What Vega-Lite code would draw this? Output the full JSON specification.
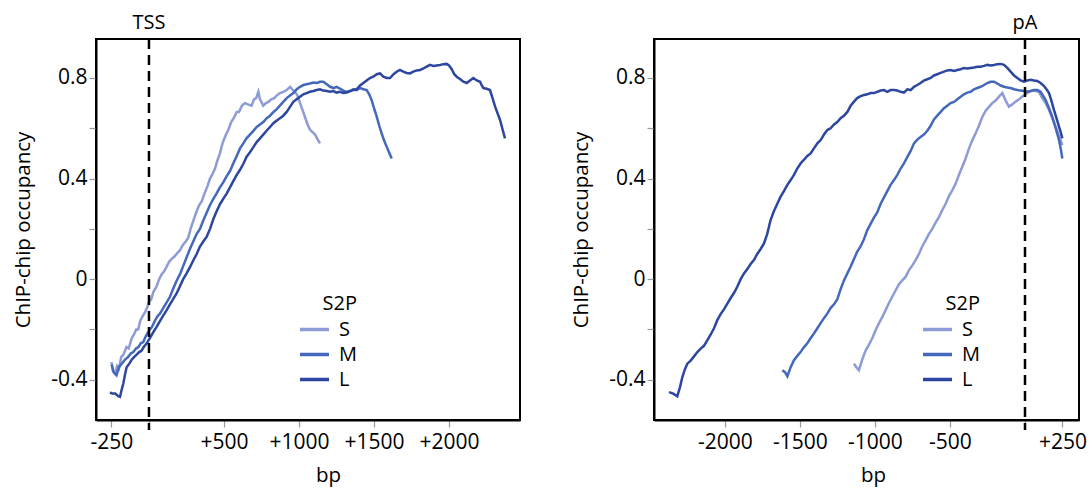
{
"$schema": "https://vega.github.io/schema/vega-lite/v6.json",
"background": "white",
"padding": {"left": 12, "top": 11, "right": 5, "bottom": 1},
"config": {
  "font": "Open Sans",
  "view": {"stroke": "black", "strokeWidth": 2},
  "axis": {"domainColor": "black", "domainWidth": 2, "tickColor": "#9a9a9a", "tickSize": 7, "tickWidth": 1.2, "labelFontSize": 21, "titleFontSize": 20.5, "labelColor": "black", "titleColor": "black", "titleFontWeight": "normal", "grid": false, "labelFont": "Open Sans", "titleFont": "Open Sans"},
  "legend": {"symbolType": "stroke", "symbolStrokeWidth": 3.5, "symbolSize": 841, "labelFontSize": 20, "titleFontSize": 20, "titleFontWeight": "normal", "titleAnchor": "end", "labelOffset": 8, "clipHeight": 19, "rowPadding": 4, "titlePadding": 6, "labelColor": "black", "titleColor": "black"}
},
"datasets": {
"tss": [
{"g":"S","x":-250,"y":-0.33},{"g":"S","x":-240,"y":-0.365},{"g":"S","x":-227,"y":-0.375},{"g":"S","x":-212,"y":-0.345},{"g":"S","x":-200,"y":-0.355},{"g":"S","x":-185,"y":-0.31},{"g":"S","x":-170,"y":-0.3},{"g":"S","x":-150,"y":-0.27},{"g":"S","x":-135,"y":-0.275},{"g":"S","x":-115,"y":-0.235},{"g":"S","x":-100,"y":-0.22},{"g":"S","x":-85,"y":-0.2},{"g":"S","x":-72,"y":-0.2},{"g":"S","x":-58,"y":-0.165},{"g":"S","x":-40,"y":-0.145},{"g":"S","x":-25,"y":-0.13},{"g":"S","x":-10,"y":-0.11},{"g":"S","x":0,"y":-0.09},{"g":"S","x":15,"y":-0.08},{"g":"S","x":30,"y":-0.05},{"g":"S","x":50,"y":-0.03},{"g":"S","x":68,"y":0.0},{"g":"S","x":85,"y":0.02},{"g":"S","x":100,"y":0.03},{"g":"S","x":118,"y":0.05},{"g":"S","x":135,"y":0.07},{"g":"S","x":150,"y":0.08},{"g":"S","x":170,"y":0.09},{"g":"S","x":190,"y":0.105},{"g":"S","x":207,"y":0.115},{"g":"S","x":225,"y":0.135},{"g":"S","x":245,"y":0.15},{"g":"S","x":262,"y":0.165},{"g":"S","x":280,"y":0.205},{"g":"S","x":300,"y":0.24},{"g":"S","x":318,"y":0.27},{"g":"S","x":335,"y":0.295},{"g":"S","x":352,"y":0.31},{"g":"S","x":370,"y":0.34},{"g":"S","x":390,"y":0.37},{"g":"S","x":407,"y":0.4},{"g":"S","x":425,"y":0.42},{"g":"S","x":440,"y":0.44},{"g":"S","x":455,"y":0.47},{"g":"S","x":473,"y":0.5},{"g":"S","x":490,"y":0.54},{"g":"S","x":510,"y":0.57},{"g":"S","x":530,"y":0.595},{"g":"S","x":548,"y":0.625},{"g":"S","x":565,"y":0.64},{"g":"S","x":585,"y":0.665},{"g":"S","x":600,"y":0.665},{"g":"S","x":620,"y":0.69},{"g":"S","x":640,"y":0.7},{"g":"S","x":660,"y":0.695},{"g":"S","x":684,"y":0.69},{"g":"S","x":700,"y":0.715},{"g":"S","x":715,"y":0.72},{"g":"S","x":729,"y":0.745},{"g":"S","x":740,"y":0.715},{"g":"S","x":762,"y":0.69},{"g":"S","x":780,"y":0.7},{"g":"S","x":796,"y":0.705},{"g":"S","x":815,"y":0.715},{"g":"S","x":835,"y":0.72},{"g":"S","x":851,"y":0.73},{"g":"S","x":873,"y":0.74},{"g":"S","x":895,"y":0.745},{"g":"S","x":918,"y":0.752},{"g":"S","x":940,"y":0.765},{"g":"S","x":955,"y":0.755},{"g":"S","x":973,"y":0.745},{"g":"S","x":990,"y":0.73},{"g":"S","x":1007,"y":0.7},{"g":"S","x":1025,"y":0.67},{"g":"S","x":1040,"y":0.645},{"g":"S","x":1057,"y":0.615},{"g":"S","x":1073,"y":0.595},{"g":"S","x":1090,"y":0.585},{"g":"S","x":1107,"y":0.575},{"g":"S","x":1125,"y":0.555},{"g":"S","x":1140,"y":0.54},
{"g":"M","x":-249,"y":-0.34},{"g":"M","x":-235,"y":-0.37},{"g":"M","x":-216,"y":-0.382},{"g":"M","x":-200,"y":-0.35},{"g":"M","x":-180,"y":-0.335},{"g":"M","x":-160,"y":-0.32},{"g":"M","x":-140,"y":-0.31},{"g":"M","x":-120,"y":-0.295},{"g":"M","x":-104,"y":-0.29},{"g":"M","x":-85,"y":-0.275},{"g":"M","x":-70,"y":-0.27},{"g":"M","x":-55,"y":-0.255},{"g":"M","x":-38,"y":-0.25},{"g":"M","x":-20,"y":-0.225},{"g":"M","x":0,"y":-0.205},{"g":"M","x":20,"y":-0.19},{"g":"M","x":40,"y":-0.165},{"g":"M","x":60,"y":-0.145},{"g":"M","x":73,"y":-0.137},{"g":"M","x":95,"y":-0.115},{"g":"M","x":120,"y":-0.09},{"g":"M","x":140,"y":-0.07},{"g":"M","x":160,"y":-0.04},{"g":"M","x":185,"y":-0.005},{"g":"M","x":207,"y":0.02},{"g":"M","x":230,"y":0.055},{"g":"M","x":250,"y":0.085},{"g":"M","x":273,"y":0.12},{"g":"M","x":295,"y":0.15},{"g":"M","x":318,"y":0.18},{"g":"M","x":340,"y":0.2},{"g":"M","x":360,"y":0.23},{"g":"M","x":385,"y":0.265},{"g":"M","x":407,"y":0.295},{"g":"M","x":430,"y":0.32},{"g":"M","x":450,"y":0.34},{"g":"M","x":473,"y":0.365},{"g":"M","x":495,"y":0.385},{"g":"M","x":518,"y":0.41},{"g":"M","x":540,"y":0.43},{"g":"M","x":562,"y":0.46},{"g":"M","x":585,"y":0.49},{"g":"M","x":607,"y":0.52},{"g":"M","x":629,"y":0.54},{"g":"M","x":650,"y":0.56},{"g":"M","x":673,"y":0.575},{"g":"M","x":696,"y":0.59},{"g":"M","x":718,"y":0.605},{"g":"M","x":740,"y":0.615},{"g":"M","x":762,"y":0.625},{"g":"M","x":785,"y":0.64},{"g":"M","x":807,"y":0.65},{"g":"M","x":830,"y":0.665},{"g":"M","x":850,"y":0.675},{"g":"M","x":873,"y":0.69},{"g":"M","x":895,"y":0.705},{"g":"M","x":918,"y":0.72},{"g":"M","x":940,"y":0.73},{"g":"M","x":962,"y":0.74},{"g":"M","x":985,"y":0.755},{"g":"M","x":1007,"y":0.765},{"g":"M","x":1029,"y":0.772},{"g":"M","x":1050,"y":0.775},{"g":"M","x":1073,"y":0.778},{"g":"M","x":1096,"y":0.782},{"g":"M","x":1120,"y":0.78},{"g":"M","x":1140,"y":0.785},{"g":"M","x":1162,"y":0.785},{"g":"M","x":1185,"y":0.775},{"g":"M","x":1207,"y":0.765},{"g":"M","x":1230,"y":0.76},{"g":"M","x":1250,"y":0.765},{"g":"M","x":1273,"y":0.758},{"g":"M","x":1295,"y":0.75},{"g":"M","x":1318,"y":0.745},{"g":"M","x":1340,"y":0.748},{"g":"M","x":1362,"y":0.755},{"g":"M","x":1384,"y":0.752},{"g":"M","x":1407,"y":0.76},{"g":"M","x":1430,"y":0.755},{"g":"M","x":1451,"y":0.752},{"g":"M","x":1468,"y":0.735},{"g":"M","x":1484,"y":0.712},{"g":"M","x":1500,"y":0.68},{"g":"M","x":1518,"y":0.646},{"g":"M","x":1535,"y":0.61},{"g":"M","x":1551,"y":0.58},{"g":"M","x":1568,"y":0.55},{"g":"M","x":1584,"y":0.527},{"g":"M","x":1600,"y":0.505},{"g":"M","x":1618,"y":0.48},
{"g":"L","x":-260,"y":-0.45},{"g":"L","x":-245,"y":-0.455},{"g":"L","x":-225,"y":-0.455},{"g":"L","x":-205,"y":-0.465},{"g":"L","x":-193,"y":-0.468},{"g":"L","x":-182,"y":-0.44},{"g":"L","x":-171,"y":-0.415},{"g":"L","x":-160,"y":-0.38},{"g":"L","x":-149,"y":-0.35},{"g":"L","x":-130,"y":-0.335},{"g":"L","x":-115,"y":-0.32},{"g":"L","x":-100,"y":-0.31},{"g":"L","x":-82,"y":-0.3},{"g":"L","x":-65,"y":-0.29},{"g":"L","x":-50,"y":-0.285},{"g":"L","x":-35,"y":-0.27},{"g":"L","x":-16,"y":-0.256},{"g":"L","x":0,"y":-0.24},{"g":"L","x":15,"y":-0.225},{"g":"L","x":30,"y":-0.21},{"g":"L","x":51,"y":-0.19},{"g":"L","x":70,"y":-0.17},{"g":"L","x":95,"y":-0.145},{"g":"L","x":118,"y":-0.123},{"g":"L","x":140,"y":-0.1},{"g":"L","x":160,"y":-0.08},{"g":"L","x":184,"y":-0.057},{"g":"L","x":205,"y":-0.03},{"g":"L","x":228,"y":0.0},{"g":"L","x":251,"y":0.023},{"g":"L","x":275,"y":0.05},{"g":"L","x":296,"y":0.075},{"g":"L","x":318,"y":0.1},{"g":"L","x":340,"y":0.13},{"g":"L","x":362,"y":0.15},{"g":"L","x":384,"y":0.168},{"g":"L","x":407,"y":0.2},{"g":"L","x":430,"y":0.24},{"g":"L","x":451,"y":0.27},{"g":"L","x":475,"y":0.3},{"g":"L","x":496,"y":0.32},{"g":"L","x":518,"y":0.34},{"g":"L","x":540,"y":0.365},{"g":"L","x":562,"y":0.39},{"g":"L","x":585,"y":0.415},{"g":"L","x":607,"y":0.435},{"g":"L","x":630,"y":0.46},{"g":"L","x":651,"y":0.487},{"g":"L","x":673,"y":0.505},{"g":"L","x":696,"y":0.525},{"g":"L","x":718,"y":0.545},{"g":"L","x":740,"y":0.56},{"g":"L","x":762,"y":0.575},{"g":"L","x":784,"y":0.59},{"g":"L","x":807,"y":0.605},{"g":"L","x":829,"y":0.62},{"g":"L","x":850,"y":0.63},{"g":"L","x":873,"y":0.64},{"g":"L","x":895,"y":0.65},{"g":"L","x":918,"y":0.665},{"g":"L","x":940,"y":0.685},{"g":"L","x":962,"y":0.705},{"g":"L","x":984,"y":0.715},{"g":"L","x":1007,"y":0.725},{"g":"L","x":1029,"y":0.735},{"g":"L","x":1051,"y":0.74},{"g":"L","x":1073,"y":0.745},{"g":"L","x":1096,"y":0.748},{"g":"L","x":1118,"y":0.752},{"g":"L","x":1140,"y":0.755},{"g":"L","x":1162,"y":0.75},{"g":"L","x":1185,"y":0.748},{"g":"L","x":1207,"y":0.745},{"g":"L","x":1229,"y":0.748},{"g":"L","x":1250,"y":0.742},{"g":"L","x":1273,"y":0.745},{"g":"L","x":1296,"y":0.74},{"g":"L","x":1318,"y":0.742},{"g":"L","x":1340,"y":0.748},{"g":"L","x":1362,"y":0.752},{"g":"L","x":1384,"y":0.755},{"g":"L","x":1407,"y":0.77},{"g":"L","x":1429,"y":0.78},{"g":"L","x":1451,"y":0.79},{"g":"L","x":1473,"y":0.8},{"g":"L","x":1495,"y":0.805},{"g":"L","x":1518,"y":0.815},{"g":"L","x":1540,"y":0.818},{"g":"L","x":1562,"y":0.805},{"g":"L","x":1585,"y":0.8},{"g":"L","x":1607,"y":0.8},{"g":"L","x":1630,"y":0.815},{"g":"L","x":1651,"y":0.825},{"g":"L","x":1673,"y":0.832},{"g":"L","x":1695,"y":0.825},{"g":"L","x":1718,"y":0.82},{"g":"L","x":1740,"y":0.818},{"g":"L","x":1762,"y":0.825},{"g":"L","x":1785,"y":0.83},{"g":"L","x":1807,"y":0.832},{"g":"L","x":1830,"y":0.838},{"g":"L","x":1851,"y":0.845},{"g":"L","x":1873,"y":0.852},{"g":"L","x":1895,"y":0.848},{"g":"L","x":1918,"y":0.85},{"g":"L","x":1940,"y":0.852},{"g":"L","x":1962,"y":0.855},{"g":"L","x":1984,"y":0.856},{"g":"L","x":2000,"y":0.85},{"g":"L","x":2018,"y":0.835},{"g":"L","x":2035,"y":0.815},{"g":"L","x":2051,"y":0.805},{"g":"L","x":2075,"y":0.795},{"g":"L","x":2096,"y":0.785},{"g":"L","x":2118,"y":0.78},{"g":"L","x":2140,"y":0.79},{"g":"L","x":2162,"y":0.8},{"g":"L","x":2185,"y":0.79},{"g":"L","x":2207,"y":0.785},{"g":"L","x":2218,"y":0.77},{"g":"L","x":2229,"y":0.76},{"g":"L","x":2251,"y":0.757},{"g":"L","x":2273,"y":0.752},{"g":"L","x":2290,"y":0.72},{"g":"L","x":2307,"y":0.686},{"g":"L","x":2323,"y":0.66},{"g":"L","x":2340,"y":0.633},{"g":"L","x":2357,"y":0.595},{"g":"L","x":2373,"y":0.56}
],
"pa": [
{"g":"S","x":-1140,"y":-0.336},{"g":"S","x":-1125,"y":-0.35},{"g":"S","x":-1107,"y":-0.362},{"g":"S","x":-1085,"y":-0.32},{"g":"S","x":-1062,"y":-0.283},{"g":"S","x":-1040,"y":-0.26},{"g":"S","x":-1018,"y":-0.235},{"g":"S","x":-996,"y":-0.203},{"g":"S","x":-973,"y":-0.175},{"g":"S","x":-951,"y":-0.15},{"g":"S","x":-929,"y":-0.123},{"g":"S","x":-907,"y":-0.095},{"g":"S","x":-885,"y":-0.07},{"g":"S","x":-862,"y":-0.044},{"g":"S","x":-840,"y":-0.02},{"g":"S","x":-818,"y":-0.005},{"g":"S","x":-796,"y":0.009},{"g":"S","x":-774,"y":0.035},{"g":"S","x":-751,"y":0.055},{"g":"S","x":-729,"y":0.076},{"g":"S","x":-707,"y":0.1},{"g":"S","x":-685,"y":0.13},{"g":"S","x":-662,"y":0.155},{"g":"S","x":-640,"y":0.18},{"g":"S","x":-618,"y":0.2},{"g":"S","x":-596,"y":0.225},{"g":"S","x":-573,"y":0.248},{"g":"S","x":-551,"y":0.275},{"g":"S","x":-529,"y":0.3},{"g":"S","x":-507,"y":0.33},{"g":"S","x":-484,"y":0.354},{"g":"S","x":-462,"y":0.38},{"g":"S","x":-440,"y":0.415},{"g":"S","x":-418,"y":0.447},{"g":"S","x":-396,"y":0.48},{"g":"S","x":-373,"y":0.52},{"g":"S","x":-351,"y":0.553},{"g":"S","x":-329,"y":0.58},{"g":"S","x":-307,"y":0.61},{"g":"S","x":-284,"y":0.646},{"g":"S","x":-262,"y":0.67},{"g":"S","x":-240,"y":0.685},{"g":"S","x":-218,"y":0.7},{"g":"S","x":-196,"y":0.71},{"g":"S","x":-173,"y":0.726},{"g":"S","x":-151,"y":0.74},{"g":"S","x":-129,"y":0.71},{"g":"S","x":-107,"y":0.686},{"g":"S","x":-85,"y":0.695},{"g":"S","x":-62,"y":0.706},{"g":"S","x":-40,"y":0.715},{"g":"S","x":-18,"y":0.726},{"g":"S","x":5,"y":0.735},{"g":"S","x":27,"y":0.745},{"g":"S","x":49,"y":0.75},{"g":"S","x":71,"y":0.748},{"g":"S","x":93,"y":0.745},{"g":"S","x":115,"y":0.72},{"g":"S","x":138,"y":0.7},{"g":"S","x":160,"y":0.673},{"g":"S","x":182,"y":0.64},{"g":"S","x":204,"y":0.606},{"g":"S","x":227,"y":0.57},{"g":"S","x":249,"y":0.533},
{"g":"M","x":-1618,"y":-0.362},{"g":"M","x":-1600,"y":-0.37},{"g":"M","x":-1584,"y":-0.386},{"g":"M","x":-1562,"y":-0.35},{"g":"M","x":-1540,"y":-0.322},{"g":"M","x":-1518,"y":-0.305},{"g":"M","x":-1496,"y":-0.29},{"g":"M","x":-1473,"y":-0.27},{"g":"M","x":-1451,"y":-0.255},{"g":"M","x":-1429,"y":-0.235},{"g":"M","x":-1407,"y":-0.216},{"g":"M","x":-1384,"y":-0.195},{"g":"M","x":-1362,"y":-0.175},{"g":"M","x":-1340,"y":-0.155},{"g":"M","x":-1318,"y":-0.137},{"g":"M","x":-1296,"y":-0.115},{"g":"M","x":-1273,"y":-0.1},{"g":"M","x":-1251,"y":-0.08},{"g":"M","x":-1229,"y":-0.04},{"g":"M","x":-1207,"y":-0.005},{"g":"M","x":-1184,"y":0.023},{"g":"M","x":-1162,"y":0.05},{"g":"M","x":-1140,"y":0.08},{"g":"M","x":-1118,"y":0.11},{"g":"M","x":-1096,"y":0.13},{"g":"M","x":-1073,"y":0.16},{"g":"M","x":-1051,"y":0.195},{"g":"M","x":-1029,"y":0.22},{"g":"M","x":-1007,"y":0.245},{"g":"M","x":-985,"y":0.265},{"g":"M","x":-962,"y":0.3},{"g":"M","x":-940,"y":0.325},{"g":"M","x":-918,"y":0.35},{"g":"M","x":-896,"y":0.375},{"g":"M","x":-873,"y":0.394},{"g":"M","x":-851,"y":0.415},{"g":"M","x":-829,"y":0.44},{"g":"M","x":-807,"y":0.46},{"g":"M","x":-785,"y":0.485},{"g":"M","x":-762,"y":0.51},{"g":"M","x":-740,"y":0.54},{"g":"M","x":-718,"y":0.555},{"g":"M","x":-696,"y":0.565},{"g":"M","x":-674,"y":0.575},{"g":"M","x":-651,"y":0.59},{"g":"M","x":-629,"y":0.61},{"g":"M","x":-607,"y":0.635},{"g":"M","x":-585,"y":0.65},{"g":"M","x":-562,"y":0.665},{"g":"M","x":-540,"y":0.68},{"g":"M","x":-518,"y":0.69},{"g":"M","x":-496,"y":0.7},{"g":"M","x":-473,"y":0.705},{"g":"M","x":-451,"y":0.715},{"g":"M","x":-429,"y":0.725},{"g":"M","x":-407,"y":0.735},{"g":"M","x":-385,"y":0.742},{"g":"M","x":-362,"y":0.745},{"g":"M","x":-340,"y":0.755},{"g":"M","x":-318,"y":0.76},{"g":"M","x":-296,"y":0.765},{"g":"M","x":-273,"y":0.772},{"g":"M","x":-251,"y":0.78},{"g":"M","x":-229,"y":0.785},{"g":"M","x":-207,"y":0.785},{"g":"M","x":-184,"y":0.778},{"g":"M","x":-162,"y":0.77},{"g":"M","x":-140,"y":0.765},{"g":"M","x":-118,"y":0.762},{"g":"M","x":-96,"y":0.76},{"g":"M","x":-73,"y":0.755},{"g":"M","x":-51,"y":0.752},{"g":"M","x":-29,"y":0.75},{"g":"M","x":-7,"y":0.748},{"g":"M","x":15,"y":0.745},{"g":"M","x":38,"y":0.748},{"g":"M","x":60,"y":0.752},{"g":"M","x":82,"y":0.752},{"g":"M","x":104,"y":0.745},{"g":"M","x":120,"y":0.73},{"g":"M","x":138,"y":0.712},{"g":"M","x":160,"y":0.68},{"g":"M","x":182,"y":0.646},{"g":"M","x":205,"y":0.6},{"g":"M","x":227,"y":0.553},{"g":"M","x":238,"y":0.52},{"g":"M","x":249,"y":0.48},
{"g":"L","x":-2373,"y":-0.449},{"g":"L","x":-2345,"y":-0.455},{"g":"L","x":-2318,"y":-0.466},{"g":"L","x":-2300,"y":-0.43},{"g":"L","x":-2284,"y":-0.389},{"g":"L","x":-2268,"y":-0.36},{"g":"L","x":-2251,"y":-0.336},{"g":"L","x":-2230,"y":-0.325},{"g":"L","x":-2210,"y":-0.31},{"g":"L","x":-2184,"y":-0.29},{"g":"L","x":-2160,"y":-0.275},{"g":"L","x":-2140,"y":-0.265},{"g":"L","x":-2118,"y":-0.243},{"g":"L","x":-2095,"y":-0.22},{"g":"L","x":-2073,"y":-0.195},{"g":"L","x":-2051,"y":-0.163},{"g":"L","x":-2030,"y":-0.14},{"g":"L","x":-2007,"y":-0.12},{"g":"L","x":-1984,"y":-0.097},{"g":"L","x":-1962,"y":-0.075},{"g":"L","x":-1940,"y":-0.055},{"g":"L","x":-1918,"y":-0.03},{"g":"L","x":-1895,"y":0.0},{"g":"L","x":-1873,"y":0.023},{"g":"L","x":-1851,"y":0.04},{"g":"L","x":-1829,"y":0.06},{"g":"L","x":-1807,"y":0.076},{"g":"L","x":-1785,"y":0.1},{"g":"L","x":-1762,"y":0.12},{"g":"L","x":-1740,"y":0.142},{"g":"L","x":-1718,"y":0.18},{"g":"L","x":-1696,"y":0.235},{"g":"L","x":-1674,"y":0.27},{"g":"L","x":-1651,"y":0.3},{"g":"L","x":-1629,"y":0.328},{"g":"L","x":-1607,"y":0.35},{"g":"L","x":-1584,"y":0.375},{"g":"L","x":-1562,"y":0.394},{"g":"L","x":-1540,"y":0.415},{"g":"L","x":-1518,"y":0.44},{"g":"L","x":-1496,"y":0.46},{"g":"L","x":-1473,"y":0.475},{"g":"L","x":-1451,"y":0.49},{"g":"L","x":-1429,"y":0.5},{"g":"L","x":-1407,"y":0.52},{"g":"L","x":-1384,"y":0.54},{"g":"L","x":-1362,"y":0.553},{"g":"L","x":-1340,"y":0.575},{"g":"L","x":-1318,"y":0.593},{"g":"L","x":-1296,"y":0.6},{"g":"L","x":-1273,"y":0.615},{"g":"L","x":-1251,"y":0.625},{"g":"L","x":-1229,"y":0.64},{"g":"L","x":-1207,"y":0.65},{"g":"L","x":-1184,"y":0.665},{"g":"L","x":-1162,"y":0.69},{"g":"L","x":-1140,"y":0.706},{"g":"L","x":-1118,"y":0.72},{"g":"L","x":-1096,"y":0.728},{"g":"L","x":-1073,"y":0.732},{"g":"L","x":-1051,"y":0.735},{"g":"L","x":-1029,"y":0.74},{"g":"L","x":-1007,"y":0.74},{"g":"L","x":-985,"y":0.745},{"g":"L","x":-962,"y":0.75},{"g":"L","x":-940,"y":0.752},{"g":"L","x":-918,"y":0.745},{"g":"L","x":-896,"y":0.752},{"g":"L","x":-873,"y":0.752},{"g":"L","x":-851,"y":0.75},{"g":"L","x":-829,"y":0.745},{"g":"L","x":-807,"y":0.742},{"g":"L","x":-785,"y":0.755},{"g":"L","x":-762,"y":0.752},{"g":"L","x":-740,"y":0.765},{"g":"L","x":-718,"y":0.772},{"g":"L","x":-696,"y":0.78},{"g":"L","x":-674,"y":0.79},{"g":"L","x":-651,"y":0.795},{"g":"L","x":-629,"y":0.8},{"g":"L","x":-607,"y":0.81},{"g":"L","x":-585,"y":0.815},{"g":"L","x":-562,"y":0.82},{"g":"L","x":-540,"y":0.825},{"g":"L","x":-518,"y":0.83},{"g":"L","x":-496,"y":0.832},{"g":"L","x":-473,"y":0.828},{"g":"L","x":-451,"y":0.832},{"g":"L","x":-429,"y":0.835},{"g":"L","x":-407,"y":0.84},{"g":"L","x":-385,"y":0.838},{"g":"L","x":-362,"y":0.84},{"g":"L","x":-340,"y":0.842},{"g":"L","x":-318,"y":0.845},{"g":"L","x":-296,"y":0.845},{"g":"L","x":-273,"y":0.848},{"g":"L","x":-251,"y":0.852},{"g":"L","x":-229,"y":0.85},{"g":"L","x":-207,"y":0.852},{"g":"L","x":-184,"y":0.855},{"g":"L","x":-162,"y":0.856},{"g":"L","x":-140,"y":0.852},{"g":"L","x":-118,"y":0.84},{"g":"L","x":-96,"y":0.825},{"g":"L","x":-73,"y":0.81},{"g":"L","x":-51,"y":0.8},{"g":"L","x":-29,"y":0.79},{"g":"L","x":-7,"y":0.785},{"g":"L","x":15,"y":0.79},{"g":"L","x":38,"y":0.793},{"g":"L","x":60,"y":0.79},{"g":"L","x":82,"y":0.788},{"g":"L","x":104,"y":0.78},{"g":"L","x":127,"y":0.768},{"g":"L","x":149,"y":0.75},{"g":"L","x":160,"y":0.74},{"g":"L","x":176,"y":0.71},{"g":"L","x":193,"y":0.673},{"g":"L","x":210,"y":0.64},{"g":"L","x":227,"y":0.606},{"g":"L","x":238,"y":0.585},{"g":"L","x":249,"y":0.56}
]
},
"spacing": 49,
"resolve": {"scale": {"color": "independent", "x": "independent"}},
"hconcat": [
{
  "width": 424, "height": 381,
  "layer": [
    {
      "data": {"name": "tss"},
      "mark": {"type": "line", "strokeWidth": 2.5},
      "encoding": {
        "x": {"field": "x", "type": "quantitative", "scale": {"domain": [-353, 2473], "nice": false, "zero": false},
              "axis": {"values": [-250, 0, 500, 1000, 1500, 2000], "labelExpr": "datum.value == 0 ? '' : (datum.value > 0 ? '+' : '-') + abs(datum.value)", "title": "bp", "titleX": 232, "titlePadding": 13, "labelPadding": 4}},
        "y": {"field": "y", "type": "quantitative", "scale": {"domain": [-0.56, 0.955], "nice": false, "zero": false},
              "axis": {"values": [-0.4, -0.2, 0, 0.2, 0.4, 0.6, 0.8], "labelExpr": "round(datum.value*10) % 4 != 0 ? '' : (datum.value == 0 ? '0' : (datum.value < 0 ? '-' : '') + format(abs(datum.value), '.1f'))", "title": "ChIP-chip occupancy", "titlePadding": 17, "labelPadding": 2}},
        "color": {"field": "g", "type": "nominal", "scale": {"domain": ["S", "M", "L"], "range": ["#8d9bd6", "#4468bb", "#2d46a0"]},
                  "legend": {"title": "S2P", "orient": "none", "legendX": 202, "legendY": 255}}
      }
    },
    {
      "data": {"values": [{}]},
      "mark": {"type": "rule", "strokeDash": [10, 6], "strokeWidth": 2.5, "color": "black"},
      "encoding": {"x": {"datum": 0}, "y": {"datum": 0.955}, "y2": {"datum": -0.6}}
    },
    {
      "data": {"values": [{}]},
      "mark": {"type": "text", "fontSize": 20, "baseline": "middle", "align": "center", "color": "black"},
      "encoding": {"x": {"datum": 0}, "y": {"datum": 1.02}, "text": {"value": "TSS"}}
    }
  ]
},
{
  "width": 425, "height": 381,
  "layer": [
    {
      "data": {"name": "pa"},
      "mark": {"type": "line", "strokeWidth": 2.5},
      "encoding": {
        "x": {"field": "x", "type": "quantitative", "scale": {"domain": [-2473, 360], "nice": false, "zero": false},
              "axis": {"values": [-2000, -1500, -1000, -500, 0, 250], "labelExpr": "datum.value == 0 ? '' : (datum.value > 0 ? '+' : '-') + abs(datum.value)", "title": "bp", "titleX": 219, "titlePadding": 13, "labelPadding": 4}},
        "y": {"field": "y", "type": "quantitative", "scale": {"domain": [-0.56, 0.955], "nice": false, "zero": false},
              "axis": {"values": [-0.4, -0.2, 0, 0.2, 0.4, 0.6, 0.8], "labelExpr": "round(datum.value*10) % 4 != 0 ? '' : (datum.value == 0 ? '0' : (datum.value < 0 ? '-' : '') + format(abs(datum.value), '.1f'))", "title": "ChIP-chip occupancy", "titlePadding": 17, "labelPadding": 2}},
        "color": {"field": "g", "type": "nominal", "scale": {"domain": ["S", "M", "L"], "range": ["#8d9bd6", "#4468bb", "#2d46a0"]},
                  "legend": {"title": "S2P", "orient": "none", "legendX": 267, "legendY": 255}}
      }
    },
    {
      "data": {"values": [{}]},
      "mark": {"type": "rule", "strokeDash": [10, 6], "strokeWidth": 2.5, "color": "black"},
      "encoding": {"x": {"datum": 0}, "y": {"datum": 0.955}, "y2": {"datum": -0.6}}
    },
    {
      "data": {"values": [{}]},
      "mark": {"type": "text", "fontSize": 20, "baseline": "middle", "align": "center", "color": "black"},
      "encoding": {"x": {"datum": 0}, "y": {"datum": 1.02}, "text": {"value": "pA"}}
    }
  ]
}
]
}
